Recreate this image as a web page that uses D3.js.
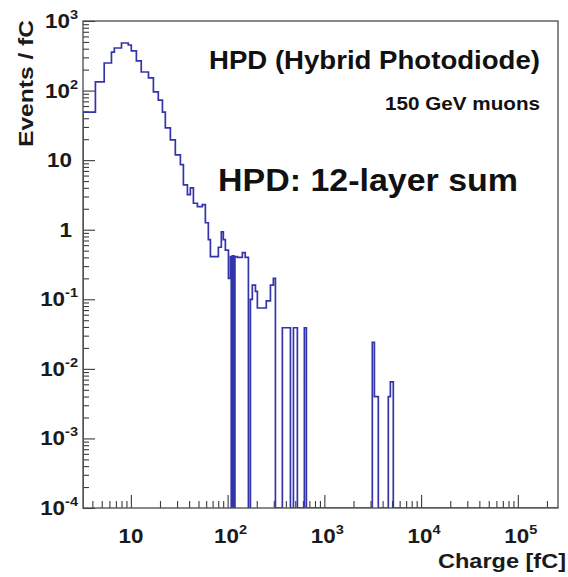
<!DOCTYPE html>
<html><head><meta charset="utf-8">
<script src="https://cdn.jsdelivr.net/npm/d3@7"></script>
<style>body{margin:0;background:#fff}svg{display:block}</style>
</head><body><svg id="c" width="568" height="577"></svg>
<script>
// Bin edges (fC) of the histogram
const binEdges = [3.2, 4.3, 5.3, 6.3, 6.75, 8.0, 9.4, 10.1, 11.4, 12.8,
  15.2, 17.1, 19.2, 21.2, 22.7, 25.6, 28.8, 32.5, 34.9, 38.4,
  41.2, 44.3, 48.7, 54.8, 58.9, 63.2, 66.4, 80.2, 86.1, 90.3,
  94.8, 102, 107, 109, 112, 116, 119, 126, 142, 152,
  164, 172, 180, 194, 203, 251, 277, 297, 312, 368,
  446, 479, 526, 621, 652, 3130, 3290, 3610, 4580, 4810,
  5160, 260000];
// Events / fC in each bin (0 = empty bin)
const eventsPerFC = [49, 133, 249, 358, 409, 483, 452, 371, 267, 185,
  152, 96, 73, 49, 29, 19.5, 11.9, 8.6, 4.4, 3.2,
  4.0, 2.4, 2.15, 2.3, 1.26, 0.72, 0.41, 0.56, 0.93, 0.72,
  0.51, 0.2, 0.41, 0, 0.42, 0, 0.41, 0.40, 0.47, 0.40,
  0, 0.10, 0.16, 0.13, 0.075, 0.095, 0.16, 0.20, 0, 0.039,
  0, 0.039, 0, 0.039, 0, 0.024, 0.004, 0, 0.004, 0.0065,
  0];
const xTickValues = [10, 100, 1000, 10000, 100000];
const xTickBases = ["10", "10", "10", "10", "10"];
const xTickExponents = ["", "2", "3", "4", "5"];
const yTickValues = [1e-4, 1e-3, 1e-2, 1e-1, 1, 10, 100, 1000];
const yTickBases = ["10", "10", "10", "10", "1", "10", "10", "10"];
const yTickExponents = ["-4", "-3", "-2", "-1", "", "", "2", "3"];
const xDomain = [3.2, 2.6e5];
const yDomain = [1e-4, 1e3];
const xTitle = "Charge [fC]";
const yTitle = "Events / fC";
const annotations = ["HPD (Hybrid Photodiode)", "150 GeV muons", "HPD: 12-layer sum"];

const svg = d3.select("#c");
const L = 83, R = 558, T = 21, B = 508;
const FONT = "'Liberation Sans', Arial, Helvetica, sans-serif";
const x = d3.scaleLog().domain(xDomain).range([L, R]);
const y = d3.scaleLog().domain(yDomain).range([B, T]);
const yv = v => v > 0 ? Math.max(T, Math.min(B, y(v))) : B;

svg.append("rect").attr("width", 568).attr("height", 577).attr("fill", "#fff");

svg.append("clipPath").attr("id", "frame")
  .append("rect").attr("x", L).attr("y", T).attr("width", R - L).attr("height", B - T);

// minor tick values
function minors(dom) {
  const out = [];
  const d0 = Math.floor(Math.log10(dom[0])), d1 = Math.ceil(Math.log10(dom[1]));
  for (let d = d0; d <= d1; d++) for (let m = 2; m <= 9; m++) {
    const v = m * Math.pow(10, d);
    if (v >= dom[0] && v <= dom[1]) out.push(v);
  }
  return out;
}
const tickColor = "#3a3a3a";
// X axis ticks (pointing up)
const gx = svg.append("g").attr("transform", `translate(0,${B})`);
gx.append("g").call(d3.axisBottom(x).tickValues(minors(xDomain)).tickSize(-7).tickFormat(""));
gx.append("g").call(d3.axisBottom(x).tickValues(xTickValues).tickSize(-13).tickFormat(""));
gx.selectAll(".domain").remove();
gx.selectAll("line").attr("stroke", tickColor).attr("stroke-width", 1.1);
// Y axis ticks (pointing right)
const gy = svg.append("g").attr("transform", `translate(${L},0)`);
gy.append("g").call(d3.axisLeft(y).tickValues(minors(yDomain)).tickSize(-6).tickFormat(""));
gy.append("g").call(d3.axisLeft(y).tickValues(yTickValues).tickSize(-12).tickFormat(""));
gy.selectAll(".domain").remove();
gy.selectAll("line").attr("stroke", tickColor).attr("stroke-width", 1.1);

// Histogram outline
let p = d3.path();
p.moveTo(x(binEdges[0]), B);
eventsPerFC.forEach((v, i) => {
  p.lineTo(x(binEdges[i]), yv(v));
  p.lineTo(x(binEdges[i + 1]), yv(v));
});
p.lineTo(x(binEdges[binEdges.length - 1]), B);
svg.append("path").attr("d", p.toString())
  .attr("clip-path", "url(#frame)")
  .attr("fill", "none").attr("stroke", "#3434aa").attr("stroke-width", 1.7)
  .attr("stroke-linejoin", "miter");

// Frame
svg.append("rect").attr("x", L).attr("y", T).attr("width", R - L).attr("height", B - T)
  .attr("fill", "none").attr("stroke", "#4a4a4a").attr("stroke-width", 1.3);

// Tick labels
function powLabel(g, base, exp, anchor) {
  const t = g.append("text").attr("font-family", FONT).attr("font-weight", "bold")
    .attr("font-size", 20).attr("fill", "#1a1a1a").attr("text-anchor", anchor);
  t.append("tspan").text(base);
  if (exp) t.append("tspan").attr("font-size", 13).attr("dy", -9).text(exp);
  return t;
}
xTickValues.forEach((v, i) => {
  const g = svg.append("g").attr("transform", `translate(${x(v) + (xTickExponents[i] ? 3 : 0)},543) scale(1.12,1)`);
  powLabel(g, xTickBases[i], xTickExponents[i], "middle");
});
yTickValues.forEach((v, i) => {
  const g = svg.append("g").attr("transform", `translate(${yTickExponents[i] ? 78 : 72},${y(v) + 7}) scale(1.12,1)`);
  powLabel(g, yTickBases[i], yTickExponents[i], "end");
});

// Axis titles
svg.append("text").attr("x", 566).attr("y", 568).attr("text-anchor", "end")
  .attr("font-family", FONT).attr("font-weight", "bold").attr("font-size", 20)
  .attr("fill", "#1a1a1a").attr("textLength", 128).attr("lengthAdjust", "spacingAndGlyphs")
  .text(xTitle);
svg.append("text").attr("transform", "translate(33,20) rotate(-90)").attr("text-anchor", "end")
  .attr("font-family", FONT).attr("font-weight", "bold").attr("font-size", 21)
  .attr("fill", "#1a1a1a").attr("textLength", 127).attr("lengthAdjust", "spacingAndGlyphs")
  .text(yTitle);

// Annotations
const ann = [
  {x: 209, y: 69, size: 26, len: 331},
  {x: 385, y: 110, size: 19, len: 155},
  {x: 218, y: 191, size: 32, len: 300}
];
annotations.forEach((s, i) => {
  svg.append("text").attr("x", ann[i].x).attr("y", ann[i].y)
    .attr("font-family", FONT).attr("font-weight", "bold").attr("font-size", ann[i].size)
    .attr("fill", "#111").attr("textLength", ann[i].len).attr("lengthAdjust", "spacingAndGlyphs")
    .text(s);
});
</script></body></html>
